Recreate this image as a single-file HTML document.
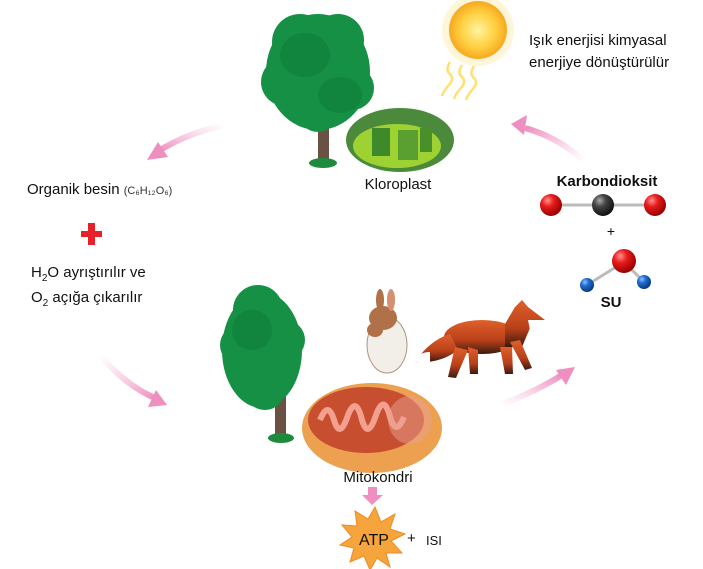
<!DOCTYPE html>
<html><head><meta charset="utf-8"><style>
body{margin:0;background:#fff;width:703px;height:569px;overflow:hidden}
svg{display:block}
text{font-family:"Liberation Sans",sans-serif}
</style></head><body>
<svg width="703" height="569" viewBox="0 0 703 569" xmlns="http://www.w3.org/2000/svg">
<defs>
<radialGradient id="sun" cx="0.5" cy="0.5" r="0.5"><stop offset="0" stop-color="#fff3a0"/><stop offset="0.6" stop-color="#ffd040"/><stop offset="1" stop-color="#f7a820"/></radialGradient>
<radialGradient id="red" cx="0.35" cy="0.3" r="0.7"><stop offset="0" stop-color="#ff9090"/><stop offset="0.4" stop-color="#e81c1c"/><stop offset="1" stop-color="#9a0000"/></radialGradient>
<radialGradient id="grey" cx="0.35" cy="0.3" r="0.7"><stop offset="0" stop-color="#aaa"/><stop offset="0.4" stop-color="#444"/><stop offset="1" stop-color="#111"/></radialGradient>
<radialGradient id="blue" cx="0.35" cy="0.3" r="0.7"><stop offset="0" stop-color="#8fc0ff"/><stop offset="0.4" stop-color="#1e6cd0"/><stop offset="1" stop-color="#0a3a80"/></radialGradient>
<linearGradient id="a1" x1="1" y1="0" x2="0" y2="1"><stop offset="0" stop-color="#f6b8d6" stop-opacity="0"/><stop offset="1" stop-color="#ee8fbf"/></linearGradient>
<linearGradient id="a2" x1="0" y1="0" x2="1" y2="1"><stop offset="0" stop-color="#f6b8d6" stop-opacity="0"/><stop offset="1" stop-color="#ee8fbf"/></linearGradient>
<linearGradient id="a3" x1="0" y1="1" x2="1" y2="0"><stop offset="0" stop-color="#f6b8d6" stop-opacity="0"/><stop offset="1" stop-color="#ee8fbf"/></linearGradient>
<linearGradient id="a4" x1="1" y1="1" x2="0" y2="0"><stop offset="0" stop-color="#f6b8d6" stop-opacity="0"/><stop offset="1" stop-color="#ee8fbf"/></linearGradient>
<linearGradient id="fox" x1="0" y1="0" x2="0" y2="1"><stop offset="0" stop-color="#e0602a"/><stop offset="0.6" stop-color="#b8401a"/><stop offset="1" stop-color="#3a1a10"/></linearGradient>
</defs>

<path d="M225 125 Q190 132 160 150" stroke="url(#a1)" stroke-width="6" fill="none"/>
<polygon points="147,160 158,142 168,157" fill="#ee8fbf"/>
<path d="M100 355 Q125 385 155 398" stroke="url(#a2)" stroke-width="6" fill="none"/>
<polygon points="167,405 148,407 156,390" fill="#ee8fbf"/>
<path d="M500 405 Q535 392 562 375" stroke="url(#a3)" stroke-width="6" fill="none"/>
<polygon points="575,367 566,385 556,370" fill="#ee8fbf"/>
<path d="M585 162 Q560 138 525 128" stroke="url(#a4)" stroke-width="6" fill="none"/>
<polygon points="511,124 527,115 524,135" fill="#ee8fbf"/>

<rect x="318" y="110" width="11" height="56" fill="#6b5044"/>
<ellipse cx="323" cy="163" rx="14" ry="5" fill="#1e8a3c"/>
<g fill="#159044">
<ellipse cx="318" cy="72" rx="52" ry="58"/>
<circle cx="300" cy="42" r="28"/><circle cx="338" cy="40" r="26"/>
<circle cx="285" cy="82" r="24"/><circle cx="352" cy="88" r="22"/>
<circle cx="318" cy="112" r="20"/>
</g>
<ellipse cx="305" cy="55" rx="25" ry="22" fill="#0d7a36" opacity="0.5"/>
<ellipse cx="340" cy="95" rx="22" ry="18" fill="#0d7a36" opacity="0.5"/>

<circle cx="478" cy="30" r="36" fill="#fff0c0" opacity="0.6"/>
<circle cx="478" cy="30" r="29" fill="url(#sun)"/>
<path d="M450 62 q-5 8 0 12 q5 5 -2 12 q-5 6 -6 10" stroke="#ffe070" stroke-width="2.5" fill="none"/>
<path d="M462 65 q-5 8 0 12 q5 5 -2 12 q-5 6 -6 10" stroke="#ffe070" stroke-width="2.5" fill="none"/>
<path d="M474 66 q-5 8 0 12 q5 5 -2 12 q-5 6 -6 10" stroke="#ffe070" stroke-width="2.5" fill="none"/>

<ellipse cx="400" cy="140" rx="54" ry="32" fill="#4a8a3a"/>
<ellipse cx="397" cy="146" rx="44" ry="22" fill="#9ed232"/>
<rect x="372" y="128" width="18" height="28" fill="#3e8a2a"/>
<rect x="398" y="130" width="20" height="30" fill="#5aa030"/>
<rect x="420" y="128" width="12" height="24" fill="#4a902a"/>
<text x="398" y="189" font-size="15" text-anchor="middle" fill="#111">Kloroplast</text>

<text x="529" y="45" font-size="15" fill="#111">Işık enerjisi kimyasal</text>
<text x="529" y="67" font-size="15" fill="#111">enerjiye dönüştürülür</text>

<text x="27" y="194" font-size="15" fill="#111">Organik besin <tspan font-size="11" fill="#333">(C₆H₁₂O₆)</tspan></text>
<rect x="81" y="231" width="21" height="6" fill="#e8202a"/>
<rect x="88" y="223" width="7" height="22" fill="#e8202a"/>
<text x="31" y="277" font-size="15" fill="#111">H<tspan font-size="10" dy="4">2</tspan><tspan dy="-4">O ayrıştırılır ve</tspan></text>
<text x="31" y="302" font-size="15" fill="#111">O<tspan font-size="10" dy="4">2</tspan><tspan dy="-4"> açığa çıkarılır</tspan></text>

<rect x="275" y="380" width="11" height="60" fill="#6b5044"/>
<ellipse cx="281" cy="438" rx="13" ry="5" fill="#1e8a3c"/>
<g fill="#159044">
<ellipse cx="262" cy="350" rx="40" ry="58"/>
<circle cx="258" cy="310" r="25"/><circle cx="240" cy="345" r="20"/>
<circle cx="285" cy="340" r="20"/><circle cx="265" cy="390" r="20"/>
</g>
<ellipse cx="252" cy="330" rx="20" ry="20" fill="#0d7a36" opacity="0.5"/>

<ellipse cx="387" cy="345" rx="20" ry="28" fill="#f2efe8" stroke="#b09080"/>
<ellipse cx="383" cy="318" rx="14" ry="12" fill="#b07048"/>
<ellipse cx="380" cy="300" rx="4" ry="11" fill="#b07048"/>
<ellipse cx="391" cy="300" rx="4" ry="11" fill="#d49070"/>
<ellipse cx="375" cy="330" rx="8" ry="7" fill="#b07048"/>

<g fill="url(#fox)">
<ellipse cx="482" cy="337" rx="38" ry="17"/>
<path d="M505 324 L515 307 L522 300 L528 307 L545 320 L530 328 L522 347 L505 347 Z"/>
<path d="M450 334 Q430 340 415 362 Q440 364 458 350 Z"/>
<path d="M455 347 L448 377 L456 378 L468 350 Z"/>
<path d="M468 347 L470 374 L478 374 L478 350 Z"/>
<path d="M500 347 L505 374 L513 374 L512 347 Z"/>
<path d="M510 342 L525 370 L532 368 L520 340 Z"/>
</g>
<path d="M415 362 Q418 352 430 352 L430 364 Z" fill="#fff"/>
<path d="M528 320 L545 320 L530 330 Z" fill="#fff"/>

<ellipse cx="372" cy="428" rx="70" ry="45" fill="#eca050"/>
<ellipse cx="366" cy="420" rx="58" ry="33" fill="#c84e30"/>
<path d="M320 420 q8 -20 14 0 q6 20 14 -5 q8 -20 14 5 q6 20 14 -5 q8 -22 14 2 q6 20 14 0" stroke="#f4a090" stroke-width="6" fill="none"/>
<ellipse cx="410" cy="420" rx="22" ry="24" fill="#e8a090" opacity="0.5"/>
<text x="378" y="482" font-size="15" text-anchor="middle" fill="#111">Mitokondri</text>

<rect x="368" y="487" width="9" height="8" fill="#ee8fbf"/>
<polygon points="362,495 383,495 372,505" fill="#ee8fbf"/>
<polygon points="375,507 381,522 395,514 390,529 405,534 391,541 402,553 386,553 390,567 377,558 370,570 364,556 350,562 354,548 340,545 352,537 342,525 357,526 355,511 368,519" fill="#f6a43c" stroke="#f08a20"/>
<text x="374" y="545" font-size="16" text-anchor="middle" fill="#111">ATP</text>
<text x="407" y="543" font-size="15" fill="#111">+</text>
<text x="426" y="545" font-size="13" fill="#111">ISI</text>

<text x="607" y="186" font-size="15" font-weight="bold" text-anchor="middle" fill="#111">Karbondioksit</text>
<line x1="551" y1="205" x2="655" y2="205" stroke="#bbb" stroke-width="3"/>
<circle cx="551" cy="205" r="11" fill="url(#red)"/>
<circle cx="603" cy="205" r="11" fill="url(#grey)"/>
<circle cx="655" cy="205" r="11" fill="url(#red)"/>
<text x="611" y="236" font-size="14" text-anchor="middle" fill="#111">+</text>
<line x1="587" y1="285" x2="624" y2="262" stroke="#bbb" stroke-width="3"/>
<line x1="644" y1="282" x2="624" y2="262" stroke="#bbb" stroke-width="3"/>
<circle cx="624" cy="261" r="12" fill="url(#red)"/>
<circle cx="587" cy="285" r="7" fill="url(#blue)"/>
<circle cx="644" cy="282" r="7" fill="url(#blue)"/>
<text x="611" y="307" font-size="15" font-weight="bold" text-anchor="middle" fill="#111">SU</text>
</svg>
</body></html>
